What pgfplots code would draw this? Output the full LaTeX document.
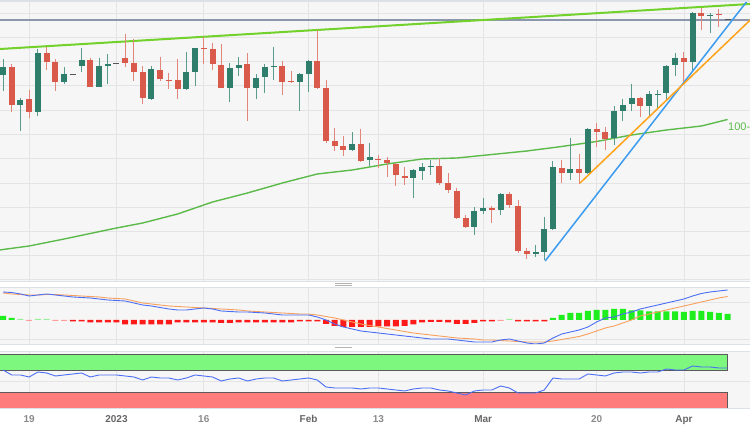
\documentclass[border=0pt]{standalone}
\usepackage{fontspec}
\setmainfont{Liberation Sans}
\usepackage{pgfplots}
\usepackage{pgfplotstable}
\pgfplotsset{compat=1.18}

\definecolor{panelbg}{HTML}{F6F6F6}
\definecolor{gridc}{HTML}{E4E4E4}
\definecolor{edgec}{HTML}{DCE1E8}
\definecolor{gripc}{HTML}{B4B4B4}
\definecolor{upc}{HTML}{2F7D6B}
\definecolor{dnc}{HTML}{D95A4A}
\definecolor{upw}{HTML}{5A9C8B}
\definecolor{dnw}{HTML}{E2857A}
\definecolor{dojic}{HTML}{555555}
\definecolor{resist}{HTML}{72D12A}
\definecolor{smac}{HTML}{5CBA4A}
\definecolor{levelc}{HTML}{8B97AD}
\definecolor{trendb}{HTML}{3B9CF0}
\definecolor{trendo}{HTML}{FFA31A}
\definecolor{macdb}{HTML}{4B6EF5}
\definecolor{macdo}{HTML}{F7A05E}
\definecolor{hup}{HTML}{1EEE1E}
\definecolor{hupl}{HTML}{9AEE9A}
\definecolor{hdn}{HTML}{FF1A1A}
\definecolor{hdnl}{HTML}{FF9C9C}
\definecolor{obz}{HTML}{7DF77D}
\definecolor{osz}{HTML}{FF7C7C}
\definecolor{bandedge}{HTML}{5A5A5A}
\definecolor{daylab}{HTML}{8A8A8A}
\definecolor{monlab}{HTML}{666666}

% candles: k = trading day, values = chart rows (top = high)
\pgfplotstableread{
k wt bt bb wb
0 59 67 75 91
2 98 100 105 131
4 49 53 112 116
7 67 74 82 84
9 48 60 66 72
11 58 66 87 87
12 54 64 66 84
17 66 69 99 100
21 52 72 89 90
22 48 48 72 86
26 63 68 88 102
27 57 65 68 76
29 74 78 88 99
30 64 67 77 93
31 47 66 67 80
34 73 74 82 111
35 60 61 74 92
40 132 144 150 151
42 143 157 160 166
47 169 170 178 198
48 163 167 171 180
49 160 166 167 175
54 207 211 227 235
55 198 208 211 214
57 193 194 210 215
61 245 252 254 257
62 217 229 252 260
63 161 167 229 230
65 138 169 173 180
67 128 129 173 174
70 106 111 138 145
71 99 105 111 121
72 84 98 104 111
74 91 94 106 117
75 90 94 95 108
76 65 66 93 100
77 53 58 65 76
79 12 13 62 70
81 13 15 16 33
}\upcandles

\pgfplotstableread{
k wt bt bb wb
1 64 67 105 112
3 90 99 112 118
5 47 53 62 70
6 59 62 82 91
10 58 60 87 87
14 34 58 63 67
15 39 63 72 81
16 66 72 98 104
18 57 70 79 81
19 73 80 81 89
20 59 80 89 99
23 37 48 49 64
24 43 49 64 70
25 44 65 88 88
28 53 64 88 121
32 61 66 82 95
33 71 81 82 83
36 30 61 88 89
37 80 88 141 143
38 128 141 146 151
39 136 146 150 156
41 129 144 161 162
43 155 159 160 168
44 157 160 163 177
45 163 164 175 186
46 167 176 178 185
50 158 166 183 185
51 173 183 190 193
52 188 191 218 219
53 215 218 227 228
56 206 208 210 223
58 192 194 205 208
59 200 206 251 253
60 248 251 254 259
64 160 168 173 183
66 154 169 173 184
68 123 129 132 147
69 127 132 139 150
73 97 98 106 117
78 52 58 62 83
80 8 13 16 30
82 9 14 15 27
}\dncandles

\pgfplotstableread{
k wt bt bb wb
8 74 74 75 75
13 63 63 64 64
83 18 19 20 21
}\dojicandles

\pgfplotstableread{
k v
-0.34 250
0 249.5
3 246
7 239
13 228
16 223
20 214
24 202
28 193
32 183
36 174
40 170
44 164
48 159
52 158
56 154.5
60 151
64 146.5
68 141.5
72 135
76 130
80 126
83 119.5
}\smatbl

\pgfplotstableread{
k m s
0 28 27
1 27.5 26
2 26 25.5
3 24 25
4 25 25
5 26 25.5
6 25 25.5
7 24 25
8 23 24.5
9 22.5 24
10 22 23.5
11 21 23
12 20 22
13 19.5 21.5
14 19 21
15 17 19
16 15 17
17 14 16
18 12.5 15
19 11 14
20 10 13.5
21 10 13
22 11 12.5
23 12 12
24 11 11.5
25 9 11
26 8.5 10.5
27 8 10
28 8 9
29 7.5 8.5
30 7 8
31 6 7.5
32 5 7
33 5 6.5
34 5 6
35 5 6
36 3 5
37 0 3.5
38 -4 2
39 -7 0
40 -9 -2
41 -11 -4
42 -12 -5.5
43 -13 -7
44 -14 -8.5
45 -15 -10
46 -16 -11.5
47 -17 -13
48 -18 -14
49 -19 -15
50 -19 -16
51 -19 -17
52 -20 -18
53 -21 -18.5
54 -22 -19
55 -22 -20
56 -22 -20
57 -20 -20.5
58 -19 -21
59 -21 -21.5
60 -23 -22
61 -24 -22
62 -23 -22
63 -18 -21
64 -14 -19.5
65 -12 -18
66 -10 -16.5
67 -7 -14
68 -2 -11
69 2 -8
70 3 -6
71 6 -3
72 8 0
73 11 4
74 13 6
75 15 8
76 17 10
77 19 12
78 21 14
79 24 16
80 26.5 18
81 28 20
82 29 22
83 30 23.5
}\macdtbl

\pgfplotstableread{
k h
0 4
1 2
63 2
64 5
65 7
66 7
67 9
68 10
69 10
70 11
71 11
72 9.5
73 9.5
74 8.5
75 8.5
76 8.5
77 8.5
78 8
79 9
80 9
81 8
82 7
83 6
}\histup

\pgfplotstableread{
k h
2 1
4 1
5 1
58 1
}\histupl

\pgfplotstableread{
k h
3 -1
6 -1
7 -1
57 -1
}\histdnl

\pgfplotstableread{
k h
8 -1.5
9 -1.5
10 -2.5
11 -2.5
12 -2.5
13 -2.5
14 -4.5
15 -4.5
16 -4.5
17 -4.5
18 -4.5
19 -4.5
20 -2.5
21 -2.5
22 -2.5
23 -2.5
24 -2.5
25 -3
26 -3
27 -2.5
28 -2.5
29 -2.5
30 -2.5
31 -2.5
32 -2.5
33 -2.5
34 -1.5
35 -1.5
36 -1.5
37 -4
38 -6
39 -7
40 -7
41 -7
42 -7
43 -6.5
44 -6.5
45 -6.5
46 -6
47 -4.5
48 -2.5
49 -2
50 -2
51 -2.5
52 -4
53 -4
54 -3
55 -1.5
56 -1.5
59 -1.5
60 -1.5
61 -1.5
62 -1.5
}\histdn

\pgfplotstableread{
k r
0 370
1 375
2 375
3 377
4 372
5 373
6 376
7 375
8 374
9 373
10 377
11 375
12 375
13 375
14 376
15 377
16 380
17 377
18 378
19 378
20 380
21 378
22 375
23 376
24 377
25 381
26 379
27 378
28 381
29 379
30 378
31 378
32 381
33 380
34 379
35 378
36 380
37 387
38 388
39 388
40 388
41 389
42 388
43 388
44 389
45 390
46 391
47 389
48 388
49 388
50 390
51 391
52 393
53 395
54 391
55 390
56 390
57 386
58 388
59 393
60 393
61 393
62 390
63 378
64 379
65 379
66 379
67 374
68 375
69 376
70 373
71 372
72 372
73 373
74 372
75 372
76 369
77 370
78 370
79 366
80 367
81 367
82 368
83 368
}\rsitbl

\pgfplotsset{
  panel/.style={
    scale only axis, width=750pt,
    xmin=-0.344, xmax=85.57,
    axis background/.style={fill=panelbg},
    axis line style={draw=none},
    major tick length=0pt,
    xtick={3,13,23,35,43,55,68,78},
    xmajorgrids, ymajorgrids,
    grid style={gridc, line width=0.8pt},
    xticklabels={}, yticklabels={},
    clip=true,
  },
  wick/.style={draw=none, mark=none, forget plot,
    error bars/y dir=plus, error bars/y explicit, error bars/error mark=none,
    error bars/error bar style={draw=#1, solid, line width=1pt}},
  body/.style={draw=none, mark=none, forget plot,
    error bars/y dir=plus, error bars/y explicit, error bars/error mark=none,
    error bars/error bar style={draw=#1, solid, line width=6pt}},
  hbar/.style={ybar, bar width=6pt, bar shift=0pt, draw=none, fill=#1},
}

\begin{document}
\begin{tikzpicture}
\fill[white] (0pt,0pt) rectangle (750pt,430pt);

% price panel
\begin{axis}[panel, at={(0pt,148pt)}, anchor=south west, height=280pt,
  ymin=2, ymax=282, y dir=reverse,
  ytick={13,37,61,85,110,134,158,183,207,231,255,279}]
\addplot[levelc, line width=1.8pt] coordinates {(-0.4,20) (85.6,20)};
\addplot[resist, line width=2pt] coordinates {(-0.344,49) (85.57,4)};
\addplot[smac, line width=1.4pt] table[x=k, y=v] {\smatbl};
\addplot[wick=upw] table[x=k, y=wt, y error plus expr=\thisrow{wb}-\thisrow{wt}] {\upcandles};
\addplot[wick=dnw] table[x=k, y=wt, y error plus expr=\thisrow{wb}-\thisrow{wt}] {\dncandles};
\addplot[body=upc] table[x=k, y=bt, y error plus expr=\thisrow{bb}-\thisrow{bt}] {\upcandles};
\addplot[body=dnc] table[x=k, y=bt, y error plus expr=\thisrow{bb}-\thisrow{bt}] {\dncandles};
\addplot[body=dojic] table[x=k, y=bt, y error plus expr=\thisrow{bb}-\thisrow{bt}] {\dojicandles};
\addplot[trendb, line width=1.5pt] coordinates {(62.1,261) (85.6,-3)};
\addplot[trendo, line width=1.5pt] coordinates {(66.1,183) (85.6,20)};
\node[anchor=west, inner sep=0pt, text=smac, font=\fontsize{11}{13}\selectfont]
  at (axis cs:83.05,127) {100-};
\end{axis}

% MACD panel
\begin{axis}[panel, at={(0pt,85pt)}, anchor=south west, height=57pt,
  ymin=-25, ymax=32, ytick={18,-19}]
\addplot[hbar=hup] table[x=k, y=h] {\histup};
\addplot[hbar=hupl] table[x=k, y=h] {\histupl};
\addplot[hbar=hdn] table[x=k, y=h] {\histdn};
\addplot[hbar=hdnl] table[x=k, y=h] {\histdnl};
\addplot[macdo, line width=0.9pt] table[x=k, y=s] {\macdtbl};
\addplot[macdb, line width=0.9pt] table[x=k, y=m] {\macdtbl};
\end{axis}

% RSI panel
\begin{axis}[panel, at={(0pt,21pt)}, anchor=south west, height=57pt,
  ymin=352, ymax=409, y dir=reverse, ytick={381},
  xticklabels={\textcolor{daylab}{19}, \textcolor{monlab}{2023}, \textcolor{daylab}{16},
    \textcolor{monlab}{Feb}, \textcolor{daylab}{13}, \textcolor{monlab}{Mar},
    \textcolor{daylab}{20}, \textcolor{monlab}{Apr}},
  xticklabel style={font=\bfseries\fontsize{10}{12}\selectfont, anchor=base, yshift=-14pt}]
\fill[obz, draw=bandedge, line width=0.6pt] (axis cs:-1,354) rectangle (axis cs:83,370);
\fill[osz, draw=bandedge, line width=0.6pt] (axis cs:-1,392) rectangle (axis cs:83,408);
\addplot[macdb, line width=0.9pt] table[x=k, y=r] {\rsitbl};
\end{axis}

% panel edges and resize grips
\fill[edgec] (0pt,428pt) rectangle (750pt,430pt);
\foreach \yy in {148,142,85,78,21} {
  \draw[edgec, line width=1pt] (0pt,\yy pt) -- (750pt,\yy pt);
}
\foreach \yy in {143,79.5} {
  \fill[gripc] (335pt,\yy pt) rectangle (352pt,\yy pt+3.5pt);
  \draw[white, line width=0.5pt] (335pt,\yy pt+1.2pt) -- (352pt,\yy pt+1.2pt);
  \draw[white, line width=0.5pt] (335pt,\yy pt+2.4pt) -- (352pt,\yy pt+2.4pt);
}

\pgfresetboundingbox
\path[use as bounding box] (0pt,0pt) rectangle (750pt,430pt);
\end{tikzpicture}
\end{document}
